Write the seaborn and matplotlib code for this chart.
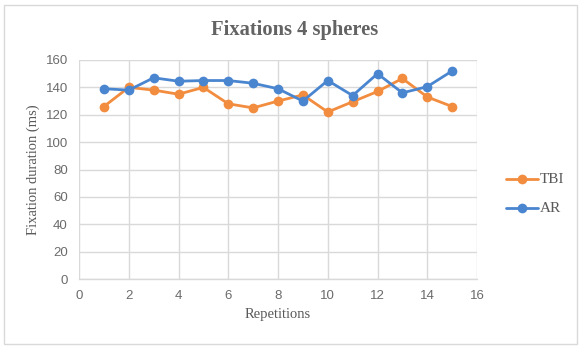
import matplotlib
matplotlib.use("Agg")
import matplotlib.pyplot as plt
import seaborn as sns
import pandas as pd
from matplotlib.patches import Rectangle

repetitions = list(range(1, 16))
tbi = [126, 140, 138, 135, 140, 128, 125, 130, 134.5, 122, 129.5, 137, 146.5, 133, 126]
ar = [139, 138, 147, 144.5, 145, 145, 143, 139, 130, 145, 134, 150, 136, 140.5, 152]
x_ticks = [0, 2, 4, 6, 8, 10, 12, 14, 16]
y_ticks = [0, 20, 40, 60, 80, 100, 120, 140, 160]

df = pd.concat([
    pd.DataFrame({"Repetitions": repetitions, "value": tbi, "series": "TBI"}),
    pd.DataFrame({"Repetitions": repetitions, "value": ar, "series": "AR"}),
])

sns.set_theme(style="white")
plt.rcParams["font.family"] = ["Liberation Sans", "DejaVu Sans"]

fig = plt.figure(figsize=(5.79, 3.46), dpi=100)
ax = fig.add_axes([79 / 579, 1 - 279 / 346, (477 - 79) / 579, (279 - 60) / 346])

palette = {"TBI": "#F28C3E", "AR": "#4A86D0"}
sns.lineplot(data=df, x="Repetitions", y="value", hue="series", palette=palette,
             marker="o", markersize=7, markeredgewidth=0, linewidth=2,
             ax=ax, legend=False)

ax.set_xlim(0, 16)
ax.set_ylim(0, 160)
ax.set_xticks(x_ticks)
ax.set_yticks(y_ticks)
ax.grid(True, color="#D9D9D9", linewidth=1)
ax.set_axisbelow(True)
for side in ["top", "right", "left"]:
    ax.spines[side].set_visible(False)
ax.spines["bottom"].set_color("#D9D9D9")
ax.spines["bottom"].set_linewidth(1)
ax.tick_params(axis="both", length=0, labelsize=9.5, labelcolor="#6b6b6b", pad=8)

serif = ["Liberation Serif", "DejaVu Serif"]
ax.set_xlabel("Repetitions", family=serif, fontsize=10.5, color="#595959", labelpad=4)
ax.set_ylabel("Fixation duration (ms)", family=serif, fontsize=10.5, color="#595959", labelpad=4)
fig.text(294.5 / 579, 1 - 30 / 346, "Fixations 4 spheres", family=serif,
         fontsize=14.8, fontweight="bold", color="#636363", ha="center", va="center")

# legend drawn by hand on the right side
for i, (name, color) in enumerate([("TBI", palette["TBI"]), ("AR", palette["AR"])]):
    yy = 1 - (179 + 29 * i) / 346
    fig.add_artist(plt.Line2D([506 / 579, 538 / 579], [yy, yy], color=color, linewidth=2,
                              transform=fig.transFigure))
    fig.add_artist(plt.Line2D([522 / 579], [yy], color=color, marker="o", markersize=7,
                              markeredgewidth=0, transform=fig.transFigure))
    fig.text(540 / 579, yy, name, family=serif, fontsize=11, color="#595959", va="center")

fig.add_artist(Rectangle((4 / 579, 1 - 344 / 346), 573 / 579, 339 / 346,
                         transform=fig.transFigure, fill=False, edgecolor="#D9D9D9", linewidth=1))

fig.savefig("out.png", dpi=100)
